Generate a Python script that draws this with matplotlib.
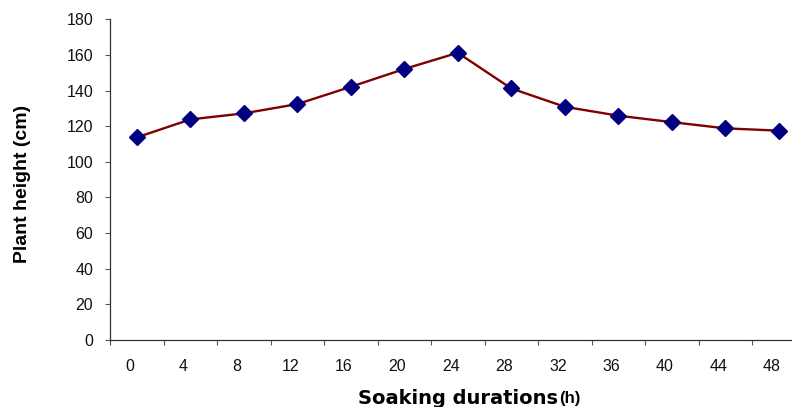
import numpy as np
import matplotlib
matplotlib.use("Agg")
import matplotlib.pyplot as plt

# Soaking durations (h) and plant height (cm)
durations = ["0", "4", "8", "12", "16", "20", "24", "28", "32", "36", "40", "44", "48"]
plant_height = [113.7, 123.8, 127.2, 132.4, 142.1, 152.1, 161.2,
                141.2, 130.9, 125.9, 122.3, 118.8, 117.5]
y_ticks = [0, 20, 40, 60, 80, 100, 120, 140, 160, 180]

fig = plt.figure(figsize=(7.92, 4.07), dpi=100)
# axis runs past the right edge of the picture, like the original
ax = fig.add_axes([110 / 792, 67 / 407, 695.5 / 792, 320.7 / 407])

x = np.arange(len(durations))
ax.plot(x, plant_height, color="#800000", linewidth=1.7,
        marker="D", markersize=8, markerfacecolor="#000080",
        markeredgecolor="#000080", zorder=3, clip_on=False)

ax.set_xlim(-0.5, len(durations) - 0.5)
ax.set_ylim(0, 180)

# category borders get the tick marks, labels sit a bit left of each point
ax.set_xticks(x - 0.5)
ax.set_xticklabels([])
ax.set_xticks(x - 0.13, minor=True)
ax.set_xticklabels(durations, minor=True)
ax.tick_params(axis="x", which="major", length=3.6, width=0.8, color="#555555")
ax.tick_params(axis="x", which="minor", length=0, pad=13.5,
               labelsize=11.5, labelcolor="#111111")

ax.set_yticks(y_ticks)
ax.tick_params(axis="y", length=3.6, width=0.8, color="#555555",
               pad=8.5, labelsize=11.5, labelcolor="#111111")
for lab in ax.get_xticklabels(minor=True) + ax.get_yticklabels():
    lab.set_family("Liberation Sans")

for side in ["top", "right"]:
    ax.spines[side].set_visible(False)
for side in ["left", "bottom"]:
    ax.spines[side].set_color("#333333")
    ax.spines[side].set_linewidth(0.9)

fig.text(23 / 792, 1 - 183.5 / 407, "Plant height (cm)", rotation=90,
         ha="center", va="center", fontsize=14, fontweight="bold",
         family="Liberation Sans")
fig.text(558 / 792, 1 - 398 / 407, "Soaking durations", ha="right",
         va="center", fontsize=14, fontweight="bold", family="DejaVu Sans")
fig.text(559 / 792, 1 - 398.5 / 407, "(h)", ha="left", va="center",
         fontsize=12, fontweight="bold", family="Liberation Sans")

fig.savefig("out.png", dpi=100)
